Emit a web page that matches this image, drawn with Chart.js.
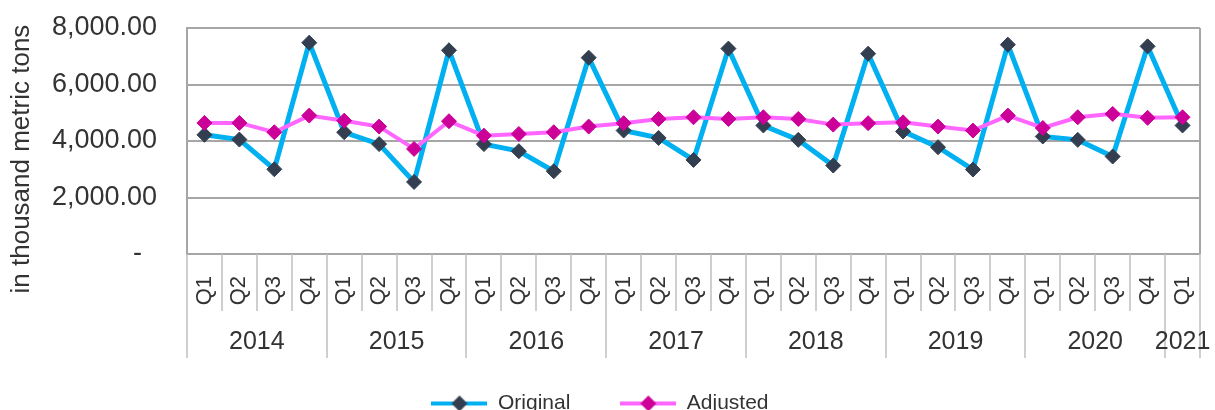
<!DOCTYPE html>
<html>
<head>
<meta charset="utf-8">
<script src="https://cdn.jsdelivr.net/npm/chart.js@4/dist/chart.umd.min.js"></script>
<style>
    html, body { margin: 0; padding: 0; background: #fff; overflow: hidden; }
    #wrap { width: 1215px; height: 430px; position: relative; }
</style>
</head>
<body>
<div id="wrap"><canvas id="tonsChart"></canvas></div>
<script>
const quarters = [
    'Q1', 'Q2', 'Q3', 'Q4', 'Q1', 'Q2', 'Q3', 'Q4', 'Q1', 'Q2', 'Q3', 'Q4',
    'Q1', 'Q2', 'Q3', 'Q4', 'Q1', 'Q2', 'Q3', 'Q4', 'Q1', 'Q2', 'Q3', 'Q4',
    'Q1', 'Q2', 'Q3', 'Q4', 'Q1'
];
const years = ['2014', '2015', '2016', '2017', '2018', '2019', '2020', '2021'];
const quartersPerYear = [4, 4, 4, 4, 4, 4, 4, 1];

const originalValues = [
    4220, 4050, 3000, 7480,
    4310, 3890, 2550, 7210,
    3890, 3640, 2930, 6950,
    4370, 4110, 3330, 7270,
    4550, 4040, 3130, 7090,
    4340, 3780, 2990, 7410,
    4160, 4040, 3450, 7350,
    4550
];
const adjustedValues = [
    4640, 4640, 4310, 4900,
    4720, 4510, 3720, 4700,
    4190, 4250, 4310, 4510,
    4630, 4780, 4840, 4780,
    4840, 4780, 4580, 4630,
    4660, 4510, 4370, 4900,
    4460, 4840, 4960, 4820,
    4840
];
const yTicks = [0, 2000, 4000, 6000, 8000];

const FONT = '"Liberation Sans", Arial, sans-serif';
const TEXT = '#333333';

function legendSwatch(lineColor, markerColor) {
    const c = document.createElement('canvas');
    c.width = 56;
    c.height = 18;
    const g = c.getContext('2d');
    g.strokeStyle = lineColor;
    g.lineWidth = 4;
    g.beginPath();
    g.moveTo(0, 9);
    g.lineTo(56, 9);
    g.stroke();
    g.fillStyle = markerColor;
    g.beginPath();
    g.moveTo(28, 1);
    g.lineTo(36, 9);
    g.lineTo(28, 17);
    g.lineTo(20, 9);
    g.closePath();
    g.fill();
    return c;
}

// quarter separators, year separators and year labels under the axis
const yearAxisPlugin = {
    id: 'yearAxis',
    afterDraw(chart) {
        const ctx = chart.ctx;
        const x = chart.scales.x;
        const area = chart.chartArea;
        const top = area.bottom;
        ctx.save();

        // right border of the plot
        ctx.strokeStyle = '#a6a6a6';
        ctx.lineWidth = 2;
        ctx.beginPath();
        ctx.moveTo(area.right, area.top);
        ctx.lineTo(area.right, area.bottom);
        ctx.stroke();

        const yearEdges = new Set([0]);
        let start = 0;
        quartersPerYear.forEach(n => { start += n; yearEdges.add(start); });

        ctx.strokeStyle = '#bfbfbf';
        ctx.lineWidth = 1.5;
        for (let i = 0; i <= quarters.length; i++) {
            const px = Math.round(x.getPixelForValue(i - 0.5));
            const len = yearEdges.has(i) ? 104 : 57;
            ctx.beginPath();
            ctx.moveTo(px, top);
            ctx.lineTo(px, top + len);
            ctx.stroke();
        }

        ctx.fillStyle = TEXT;
        ctx.font = '25px ' + FONT;
        ctx.textAlign = 'center';
        ctx.textBaseline = 'middle';
        start = 0;
        years.forEach((yr, k) => {
            const mid = start + quartersPerYear[k] / 2 - 0.5;
            ctx.fillText(yr, x.getPixelForValue(mid), top + 88);
            start += quartersPerYear[k];
        });
        ctx.restore();
    }
};

const ctx = document.getElementById('tonsChart').getContext('2d');
const tonsChart = new Chart(ctx, {
    type: 'line',
    data: {
        labels: quarters,
        datasets: [{
            label: 'Original',
            data: originalValues,
            borderColor: '#00b0f0',
            borderWidth: 5,
            pointStyle: 'rectRot',
            pointRadius: 7.5,
            pointBackgroundColor: '#333f50',
            pointBorderColor: '#333f50',
            pointBorderWidth: 1,
            tension: 0,
            order: 1
        }, {
            label: 'Adjusted',
            data: adjustedValues,
            borderColor: '#ff66ff',
            borderWidth: 4,
            pointStyle: 'rectRot',
            pointRadius: 7.5,
            pointBackgroundColor: '#cc0099',
            pointBorderColor: '#cc0099',
            pointBorderWidth: 1,
            tension: 0,
            order: 0
        }]
    },
    options: {
        responsive: true,
        maintainAspectRatio: false,
        animation: false,
        layout: {
            padding: { top: 28, right: 15, left: 0, bottom: 6 }
        },
        plugins: {
            tooltip: { enabled: false },
            legend: {
                position: 'bottom',
                labels: {
                    usePointStyle: true,
                    pointStyleWidth: 56,
                    padding: 50,
                    color: TEXT,
                    font: { size: 21, family: FONT },
                    generateLabels: () => [
                        { text: 'Original', pointStyle: legendSwatch('#00b0f0', '#333f50'), lineWidth: 0, fontColor: TEXT, datasetIndex: 0 },
                        { text: 'Adjusted', pointStyle: legendSwatch('#ff66ff', '#cc0099'), lineWidth: 0, fontColor: TEXT, datasetIndex: 1 }
                    ]
                }
            }
        },
        scales: {
            x: {
                offset: true,
                afterFit: s => {
                    s.height = 89;
                    s.paddingLeft = 0;
                    s.paddingRight = 0;
                },
                grid: { display: false },
                border: { display: false },
                ticks: {
                    autoSkip: false,
                    minRotation: 90,
                    maxRotation: 90,
                    padding: 14,
                    color: TEXT,
                    font: { size: 22, family: FONT }
                }
            },
            y: {
                min: 0,
                max: 8000,
                afterFit: s => {
                    s.width = 187;
                    s.paddingTop = 0;
                    s.paddingBottom = 0;
                },
                afterBuildTicks: s => { s.ticks = yTicks.map(v => ({ value: v })); },
                grid: { color: '#a6a6a6', lineWidth: 2, drawTicks: false },
                border: { display: true, color: '#a6a6a6', width: 2 },
                ticks: {
                    padding: 30,
                    color: TEXT,
                    font: { size: 27, family: FONT },
                    callback: v => v === 0 ? '-  ' : v.toLocaleString('en-US', { minimumFractionDigits: 2, maximumFractionDigits: 2 })
                },
                title: {
                    display: true,
                    // trailing spaces push the rotated title a little lower, as in the original
                    text: 'in thousand metric tons     ',
                    color: TEXT,
                    font: { size: 26, family: FONT },
                    padding: { top: 6, bottom: 0 }
                }
            }
        }
    },
    plugins: [yearAxisPlugin]
});
</script>
</body>
</html>
